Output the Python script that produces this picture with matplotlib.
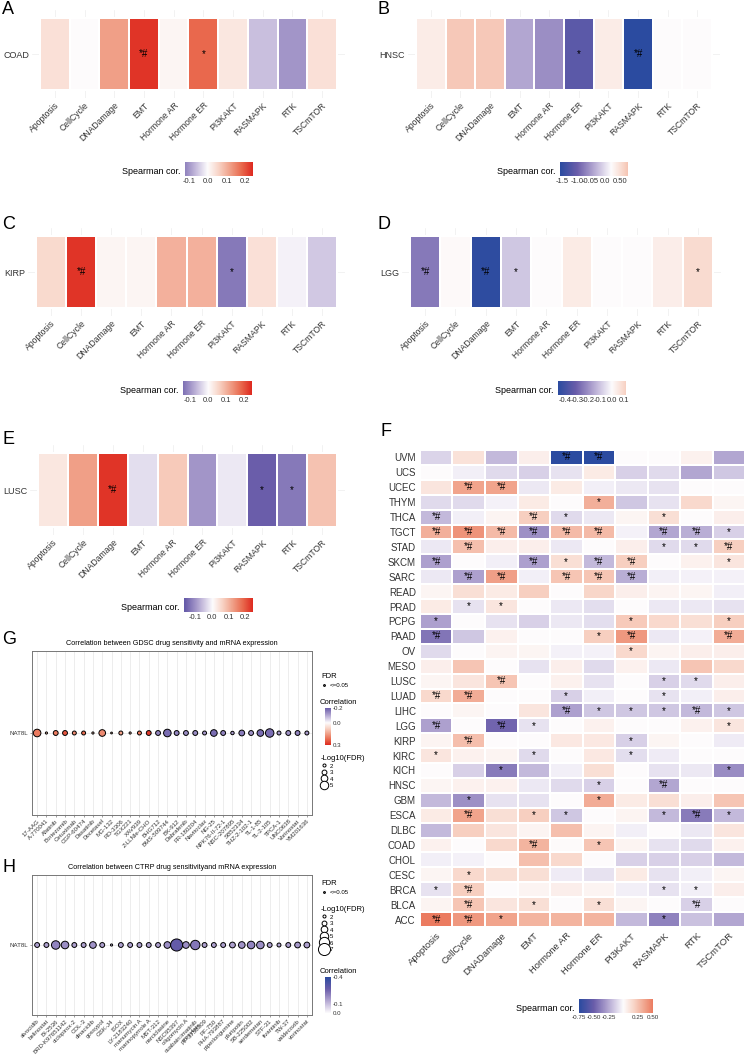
import numpy as np
import matplotlib
matplotlib.use('Agg')
import matplotlib.pyplot as plt
from matplotlib.colors import LinearSegmentedColormap, Normalize
from matplotlib.lines import Line2D

plt.rcParams['font.family'] = ['Liberation Sans', 'DejaVu Sans']

# ---------------- data ----------------
pathways = ['Apoptosis', 'CellCycle', 'DNADamage', 'EMT', 'Hormone AR',
            'Hormone ER', 'PI3KAKT', 'RASMAPK', 'RTK', 'TSCmTOR']

coad_vals = [0.04, 0.0, 0.12, 0.23, 0.01, 0.18, 0.03, -0.06, -0.10, 0.04]
coad_sig = ['', '', '', '*#', '', '*', '', '', '', '']

hnsc_vals = [0.02, 0.06, 0.06, -0.07, -0.09, -0.15, 0.02, -0.20, 0.0, 0.0]
hnsc_sig = ['', '', '', '', '', '*', '', '*#', '', '']

kirp_vals = [0.05, 0.23, 0.01, 0.01, 0.10, 0.10, -0.13, 0.04, -0.01, -0.05]
kirp_sig = ['', '*#', '', '', '', '', '*', '', '', '']

lgg_vals = [-0.25, 0.01, -0.45, -0.10, 0.0, 0.05, 0.0, 0.0, 0.04, 0.09]
lgg_sig = ['*#', '', '*#', '*', '', '', '', '', '', '*']

lusc_vals = [0.03, 0.12, 0.23, -0.03, 0.07, -0.10, -0.02, -0.16, -0.13, 0.08]
lusc_sig = ['', '', '*#', '', '', '', '', '*', '*', '']

f_cancers = ['UVM', 'UCS', 'UCEC', 'THYM', 'THCA', 'TGCT', 'STAD', 'SKCM', 'SARC',
             'READ', 'PRAD', 'PCPG', 'PAAD', 'OV', 'MESO', 'LUSC', 'LUAD', 'LIHC',
             'LGG', 'KIRP', 'KIRC', 'KICH', 'HNSC', 'GBM', 'ESCA', 'DLBC', 'COAD',
             'CHOL', 'CESC', 'BRCA', 'BLCA', 'ACC']
f_vals = [
    [-0.12, 0.12, -0.20, 0.06, -0.75, -0.75, 0.0, 0.0, 0.05, -0.26],
    [0.0, -0.04, -0.10, -0.13, -0.08, 0.08, -0.13, -0.10, -0.26, -0.16],
    [0.10, 0.36, 0.36, -0.06, 0.08, -0.04, -0.06, -0.08, 0.0, 0.0],
    [-0.10, -0.10, -0.03, 0.08, 0.0, 0.32, -0.16, -0.08, 0.16, 0.03],
    [-0.20, -0.04, 0.04, 0.20, -0.10, -0.06, 0.03, 0.13, 0.0, 0.06],
    [0.32, 0.42, 0.28, -0.33, 0.28, 0.28, -0.03, -0.26, -0.24, -0.13],
    [-0.06, 0.26, 0.06, 0.06, -0.06, 0.0, 0.06, -0.10, -0.10, 0.20],
    [-0.28, 0.0, -0.04, -0.28, 0.13, -0.20, 0.20, 0.0, 0.05, 0.10],
    [-0.06, -0.28, 0.38, -0.04, 0.24, 0.24, -0.24, -0.04, -0.03, -0.03],
    [0.03, 0.13, 0.08, 0.20, 0.0, 0.17, 0.06, 0.04, 0.03, -0.04],
    [0.08, -0.08, 0.10, 0.0, -0.06, -0.09, 0.0, -0.06, -0.06, -0.08],
    [-0.28, 0.0, -0.08, -0.13, -0.06, -0.09, 0.22, 0.16, 0.13, 0.20],
    [-0.42, -0.16, 0.05, 0.0, 0.0, 0.20, 0.40, -0.06, -0.03, 0.33],
    [-0.10, 0.0, 0.04, 0.03, -0.03, -0.03, 0.16, 0.04, 0.06, 0.06],
    [0.06, 0.24, 0.0, -0.08, 0.06, -0.10, 0.05, -0.06, 0.24, 0.16],
    [0.03, 0.10, 0.24, 0.0, 0.05, -0.08, 0.0, -0.13, -0.10, 0.06],
    [0.16, 0.33, 0.0, 0.0, -0.13, -0.04, 0.0, -0.08, -0.04, 0.06],
    [0.0, 0.03, 0.0, 0.10, -0.28, -0.16, -0.16, -0.16, -0.20, -0.16],
    [-0.28, 0.0, -0.48, -0.08, 0.0, 0.05, 0.0, 0.0, 0.05, 0.10],
    [0.04, 0.26, 0.0, 0.0, 0.09, 0.09, -0.13, 0.03, 0.0, -0.05],
    [0.10, 0.05, 0.04, -0.10, 0.0, 0.09, -0.09, -0.05, 0.0, 0.0],
    [0.0, -0.13, -0.40, -0.20, -0.04, 0.13, 0.0, -0.08, -0.06, -0.34],
    [0.03, 0.05, 0.05, -0.06, -0.10, -0.13, 0.0, -0.26, 0.0, 0.0],
    [-0.20, -0.33, -0.08, -0.08, 0.0, 0.33, 0.08, 0.13, 0.06, 0.24],
    [0.08, 0.36, 0.13, 0.20, -0.16, 0.0, 0.04, -0.20, -0.40, -0.20],
    [-0.20, 0.20, 0.10, 0.04, 0.26, 0.04, -0.04, 0.0, -0.06, 0.10],
    [0.05, 0.0, 0.16, 0.30, 0.01, 0.24, 0.04, -0.08, -0.10, 0.05],
    [-0.04, -0.03, 0.0, 0.26, 0.16, 0.0, -0.13, -0.13, -0.13, -0.20],
    [0.03, 0.16, 0.13, 0.13, -0.05, -0.08, 0.08, -0.08, -0.04, 0.03],
    [-0.08, 0.20, 0.0, 0.04, 0.06, 0.04, -0.04, -0.08, -0.04, 0.06],
    [0.04, 0.24, 0.10, 0.13, 0.0, 0.13, 0.03, 0.0, -0.13, 0.0],
    [0.50, 0.40, 0.36, 0.30, 0.30, 0.30, -0.20, -0.38, -0.18, -0.26],
]
f_sig = [
    ',,,,*#,*#,,,,', ',,,,,,,,,', ',*#,*#,,,,,,,', ',,,,,*,,,,',
    '*#,,,*#,*,,,*,,', '*#,*#,*#,*#,*#,*#,,*#,*#,*', ',*#,,,,,,*,*,*#',
    '*#,,,*#,*,*#,*#,,,*', ',*#,*#,,*#,*#,*#,,,', ',,,,,,,,,', ',*,*,,,,,,,',
    '*,,,,,,*,,,*', '*#,,,,,*,*#,,,*#', ',,,,,,*,,,', ',,,,,,,,,',
    ',,*#,,,,,*,*,', '*#,*#,,,*,,,*,,', ',,,,*#,*,*,*,*#,*', '*#,,*#,*,,,,,,*',
    ',*#,,,,,*,,,', '*,,,*,,,*,,,', ',,*,,,,,,,*', ',,,,,*,,*#,,',
    ',*,,,,*,,,,', ',*#,,*,*,,,*,*#,*', ',,,,,,,,,', ',,,*#,,*,,,,',
    ',,,,,,,,,', ',*,,,,,,,,', '*,*#,,,,,,*,*,', ',*#,,*,,*,,,*#,',
    '*#,*#,*,,,,,*,,',
]

gdsc_drugs = ['17-AAG', 'A-770041', 'Afatinib', 'Bortezomib', 'Cetuximab', 'CGP-60474',
              'Dasatinib', 'Docetaxel', 'MG-132', 'RO-3306', 'TGX221', 'XAV939',
              'Z-LLNle-CHO', 'BHG712', 'BMS-509744', 'BX-912', 'Dabrafenib', 'FR-180204',
              'Navitoclax', 'NG-25', 'NPK76-II-72-1', 'NSC-207895', 'SB52334',
              'THZ-2-102-1', 'TL-1-85', 'TL-2-105', 'TPCA-1', 'UNC0638', 'Vorinostat',
              'YM201636']
gdsc_cor = [0.20, 0.10, 0.20, 0.25, 0.18, 0.22, 0.10, 0.18, 0.10, 0.15, 0.10, 0.20,
            0.28, -0.15, -0.18, -0.15, -0.14, -0.14, -0.12, -0.18, -0.15, -0.12,
            -0.16, -0.13, -0.18, -0.18, -0.12, -0.13, -0.15, -0.12]
gdsc_fdr = [4.5, 1.5, 3.0, 3.0, 2.5, 2.5, 1.5, 4.0, 1.3, 2.5, 1.5, 2.5,
            3.0, 3.0, 4.5, 3.0, 3.0, 3.0, 2.5, 4.0, 3.0, 2.2,
            3.5, 3.0, 4.0, 5.0, 2.5, 3.0, 3.0, 2.5]

ctrp_drugs = ['alvocidib', 'belinostat', 'BI-2536', 'BRD-K97651142', 'ciclopirox-2',
              'COL-3', 'dinaciclib', 'gossypol', 'GSK-J4', 'ISOX', 'LY-2183240',
              'manumycin A', 'marinopyrrole A', 'MST-312', 'narciclasine', 'NSC95397',
              'oligomycin A', 'ouabain:imatinib\nmesylate', 'PF-3758309', 'PF-750',
              'PHA-793887', 'piperlongumine', 'pluripotin', 'SB-225002', 'serdemetan',
              'STF-31', 'tivantinib', 'TW-37', 'valdecoxib', 'vorinostat']
ctrp_cor = [-0.15, -0.15, -0.20, -0.18, -0.15, -0.15, -0.17, -0.15, -0.10, -0.15,
            -0.15, -0.15, -0.15, -0.15, -0.18, -0.28, -0.18, -0.22, -0.15, -0.15,
            -0.15, -0.15, -0.17, -0.20, -0.18, -0.15, -0.14, -0.15, -0.16, -0.15]
ctrp_fdr = [3.0, 3.0, 5.0, 4.5, 3.0, 3.0, 4.0, 3.0, 1.5, 3.0,
            3.0, 3.0, 3.0, 3.0, 4.0, 7.0, 4.0, 5.5, 3.0, 3.0,
            3.0, 3.5, 4.0, 4.5, 4.5, 3.0, 2.5, 3.0, 3.5, 3.5]

# ---------------- style ----------------
W, H = 749, 1063
fig = plt.figure(figsize=(W / 100, H / 100), dpi=100)

cmap = LinearSegmentedColormap.from_list('sp', [
    (0.0, '#2B4BA0'), (0.165, '#6A5DAA'), (0.29, '#A295C8'), (0.375, '#C8BEDE'),
    (0.5, '#FDFCFD'), (0.625, '#F8D3C5'), (0.75, '#F0A088'), (0.875, '#E96A4E'),
    (1.0, '#DE2A20')])
txt = '#333333'


def box_axes(x0, y0, x1, y1):
    return fig.add_axes([x0 / W, 1 - y1 / H, (x1 - x0) / W, (y1 - y0) / H])


def letter(s, x, y):
    fig.text(x / W, 1 - y / H, s, fontsize=13, va='top', ha='left')


def hbar(box, lo, hi, ticks, labels, fs=5.5):
    m = max(abs(lo), abs(hi))
    norm = Normalize(-m, m)
    cax = box_axes(*box)
    grad = np.linspace(lo, hi, 256)
    cax.imshow(grad[None, :], cmap=cmap, norm=norm, aspect='auto', extent=(lo, hi, 0, 1))
    cax.set_xlim(lo, hi)
    cax.set_yticks([])
    cax.set_xticks(ticks)
    cax.set_xticklabels(labels, fontsize=fs, color=txt)
    cax.tick_params(length=0, pad=1.5)
    for sp in cax.spines.values():
        sp.set_visible(False)
    cax.text(-0.06, 0.3, 'Spearman cor.', transform=cax.transAxes,
             ha='right', va='center', fontsize=6.5)


def single_heat(tile, name, vals, sig, lims, ticks, labels, cbox):
    x0, y0, x1, y1 = tile
    pad = 8
    cw = (x1 - x0) / len(pathways)
    ax = box_axes(x0 - pad, y0 - pad, x1 + pad, y1 + pad)
    lo, hi = lims
    m = max(abs(lo), abs(hi))
    norm = Normalize(-m, m)
    edges = np.arange(len(pathways) + 1) - 0.5
    ax.pcolormesh(edges, [-0.5, 0.5], np.array([vals]), cmap=cmap, norm=norm,
                  edgecolors='#FFFFFF', linewidth=0.12)
    for i, s in enumerate(sig):
        if s:
            ax.text(i, 0, s, ha='center', va='center', fontsize=7)
    ax.set_xlim(-0.5 - pad / cw, len(pathways) - 0.5 + pad / cw)
    ax.set_ylim(-0.5 - pad / (y1 - y0), 0.5 + pad / (y1 - y0))
    ax.set_xticks(range(len(pathways)))
    ax.set_xticklabels(pathways, rotation=45, ha='right', rotation_mode='anchor',
                       fontsize=6.2, color=txt)
    ax.set_yticks([0])
    ax.set_yticklabels([name], fontsize=6.5, color=txt)
    ax.tick_params(length=0, pad=2)
    ax.grid(color='#EDEDED', linewidth=0.5)
    ax.set_axisbelow(True)
    for sp in ax.spines.values():
        sp.set_visible(False)
    hbar(cbox, lo, hi, ticks, labels)


# ---------------- panels A-E ----------------
letter('A', 2, 1)
single_heat((40, 18, 337, 90), 'COAD', coad_vals, coad_sig, (-0.12, 0.24),
            [-0.1, 0.0, 0.1, 0.2], ['-0.1', '0.0', '0.1', '0.2'], (185, 162, 253, 176))
letter('B', 377, 1)
single_heat((416, 18, 712, 90), 'HNSC', hnsc_vals, hnsc_sig, (-0.2, 0.065),
            [-0.19, -0.135, -0.083, -0.025, 0.033],
            ['-1.5', '-1.0', '-0.05', '0.0', '0.50'], (560, 162, 628, 176))
letter('C', 2, 216)
single_heat((36, 236, 337, 308), 'KIRP', kirp_vals, kirp_sig, (-0.14, 0.24),
            [-0.1, 0.0, 0.1, 0.2], ['-0.1', '0.0', '0.1', '0.2'], (183, 381, 251, 395))
letter('D', 377, 216)
single_heat((410, 236, 713, 308), 'LGG', lgg_vals, lgg_sig, (-0.46, 0.12),
            [-0.4, -0.3, -0.2, -0.1, 0.0, 0.1],
            ['-0.4', '-0.3', '-0.2', '-0.1', '0.0', '0.1'], (558, 381, 626, 395))
letter('E', 2, 431)
single_heat((38, 453, 337, 527), 'LUSC', lusc_vals, lusc_sig, (-0.17, 0.24),
            [-0.1, 0.0, 0.1, 0.2], ['-0.1', '0.0', '0.1', '0.2'], (184, 598, 252, 612))

# ---------------- panel F ----------------
letter('F', 380, 423)
axf = box_axes(420, 450, 745, 927)
mf = 0.75
normf = Normalize(-mf, mf)
edges_x = np.arange(len(pathways) + 1) - 0.5
edges_y = np.arange(len(f_cancers) + 1) - 0.5
axf.pcolormesh(edges_x, edges_y, np.array(f_vals), cmap=cmap, norm=normf,
               edgecolors='#FFFFFF', linewidth=0.2)
for r, row in enumerate(f_sig):
    for c, s in enumerate(row.split(',')):
        if s:
            axf.text(c, r, s, ha='center', va='center', fontsize=7)
axf.set_xlim(-0.5, len(pathways) - 0.5)
axf.set_ylim(len(f_cancers) - 0.5, -0.5)
axf.set_xticks(range(len(pathways)))
axf.set_xticklabels(pathways, rotation=45, ha='right', rotation_mode='anchor',
                    fontsize=6.8, color=txt)
axf.set_yticks(range(len(f_cancers)))
axf.set_yticklabels(f_cancers, fontsize=7, color=txt)
axf.tick_params(length=0, pad=3)
for sp in axf.spines.values():
    sp.set_visible(False)
hbar((579, 999, 653, 1013), -0.75, 0.5, [-0.75, -0.5, -0.25, 0.25, 0.5],
     ['-0.75', '-0.50', '-0.25', '0.25', '0.50'], fs=4.5)


# ---------------- panels G, H ----------------
def dsize(f):
    return (1.3 * f - 0.4) ** 2


def dot_panel(title, box, drugs, cors, fdrs, m, fdr_top, size_top, bar_top, bar_h,
              fdr_levels, cbar_ticks, cbar_labels):
    ax = box_axes(*box)
    norm = Normalize(-m, m)
    x = np.arange(len(drugs))
    ax.scatter(x, np.zeros(len(drugs)), s=dsize(np.array(fdrs)), c=cors, cmap=cmap,
               norm=norm, edgecolors='black', linewidths=0.7, zorder=3)
    ax.set_xlim(-0.55, len(drugs) - 0.45)
    ax.set_ylim(-1, 1)
    ax.set_xticks(x)
    ax.set_xticklabels(drugs, rotation=45, ha='right', rotation_mode='anchor',
                       fontsize=4.4, color=txt, linespacing=0.95)
    ax.set_yticks([0])
    ax.set_yticklabels(['NAT8L'], fontsize=4.4, color=txt)
    ax.tick_params(length=1.5, width=0.4, pad=1, color='#555555')
    ax.grid(color='#E6E6E6', linewidth=0.5)
    ax.set_axisbelow(True)
    for sp in ax.spines.values():
        sp.set_color('#777777')
        sp.set_linewidth(0.7)
    ax.set_title(title, fontsize=5.2, pad=4)

    lx = 318
    h1 = [Line2D([], [], marker='o', ls='', mfc='#444444', mec='black', mew=0.6,
                 ms=np.sqrt(dsize(1.4)))]
    fig.legend(h1, ['<=0.05'], title='FDR', loc='upper left',
               bbox_to_anchor=(lx / W, 1 - fdr_top / H), frameon=False, fontsize=4.4,
               title_fontsize=5.5, alignment='left', borderpad=0, handlelength=1,
               handletextpad=0.4)

    hs = [Line2D([], [], marker='o', ls='', mfc='white', mec='black', mew=0.7,
                 ms=np.sqrt(dsize(f))) for f in fdr_levels]
    fig.legend(hs, [str(f) for f in fdr_levels], title='-Log10(FDR)',
               loc='upper left', bbox_to_anchor=(lx / W, 1 - size_top / H),
               frameon=False, fontsize=4.4, title_fontsize=5.5, alignment='left',
               borderpad=0, handlelength=1, handletextpad=0.4, labelspacing=0.2)

    lo, hi = min(cbar_ticks), max(cbar_ticks)
    fig.text((lx + 2) / W, 1 - (bar_top - 9) / H, 'Correlation', fontsize=5.5, va='top')
    cax = box_axes(325, bar_top, 331, bar_top + bar_h)
    grad = np.linspace(lo, hi, 256)
    cax.imshow(grad[:, None], cmap=cmap, norm=norm, aspect='auto',
               extent=(0, 1, lo, hi), origin='lower')
    cax.set_ylim(hi, lo)
    cax.set_xticks([])
    cax.yaxis.tick_right()
    cax.set_yticks(cbar_ticks)
    cax.set_yticklabels(cbar_labels, fontsize=4.4, color=txt)
    cax.tick_params(length=0, pad=1.5)
    for sp in cax.spines.values():
        sp.set_visible(False)


letter('G', 2, 631)
dot_panel('Correlation between GDSC drug sensitivity and mRNA expression',
          (32, 651, 312, 815), gdsc_drugs, gdsc_cor, gdsc_fdr, 0.3,
          670, 752, 708, 37, [2, 3, 4, 5], [-0.2, 0.0, 0.3], ['-0.2', '0.0', '0.3'])
letter('H', 2, 859)
dot_panel('Correlation between CTRP drug sensitivityand mRNA expression',
          (32, 875, 312, 1015), ctrp_drugs, ctrp_cor, ctrp_fdr, 0.4,
          877, 903, 977, 36, [2, 3, 4, 5, 6, 7], [-0.4, -0.1, 0.0],
          ['-0.4', '-0.1', '0.0'])

fig.savefig('out.png', dpi=100)
